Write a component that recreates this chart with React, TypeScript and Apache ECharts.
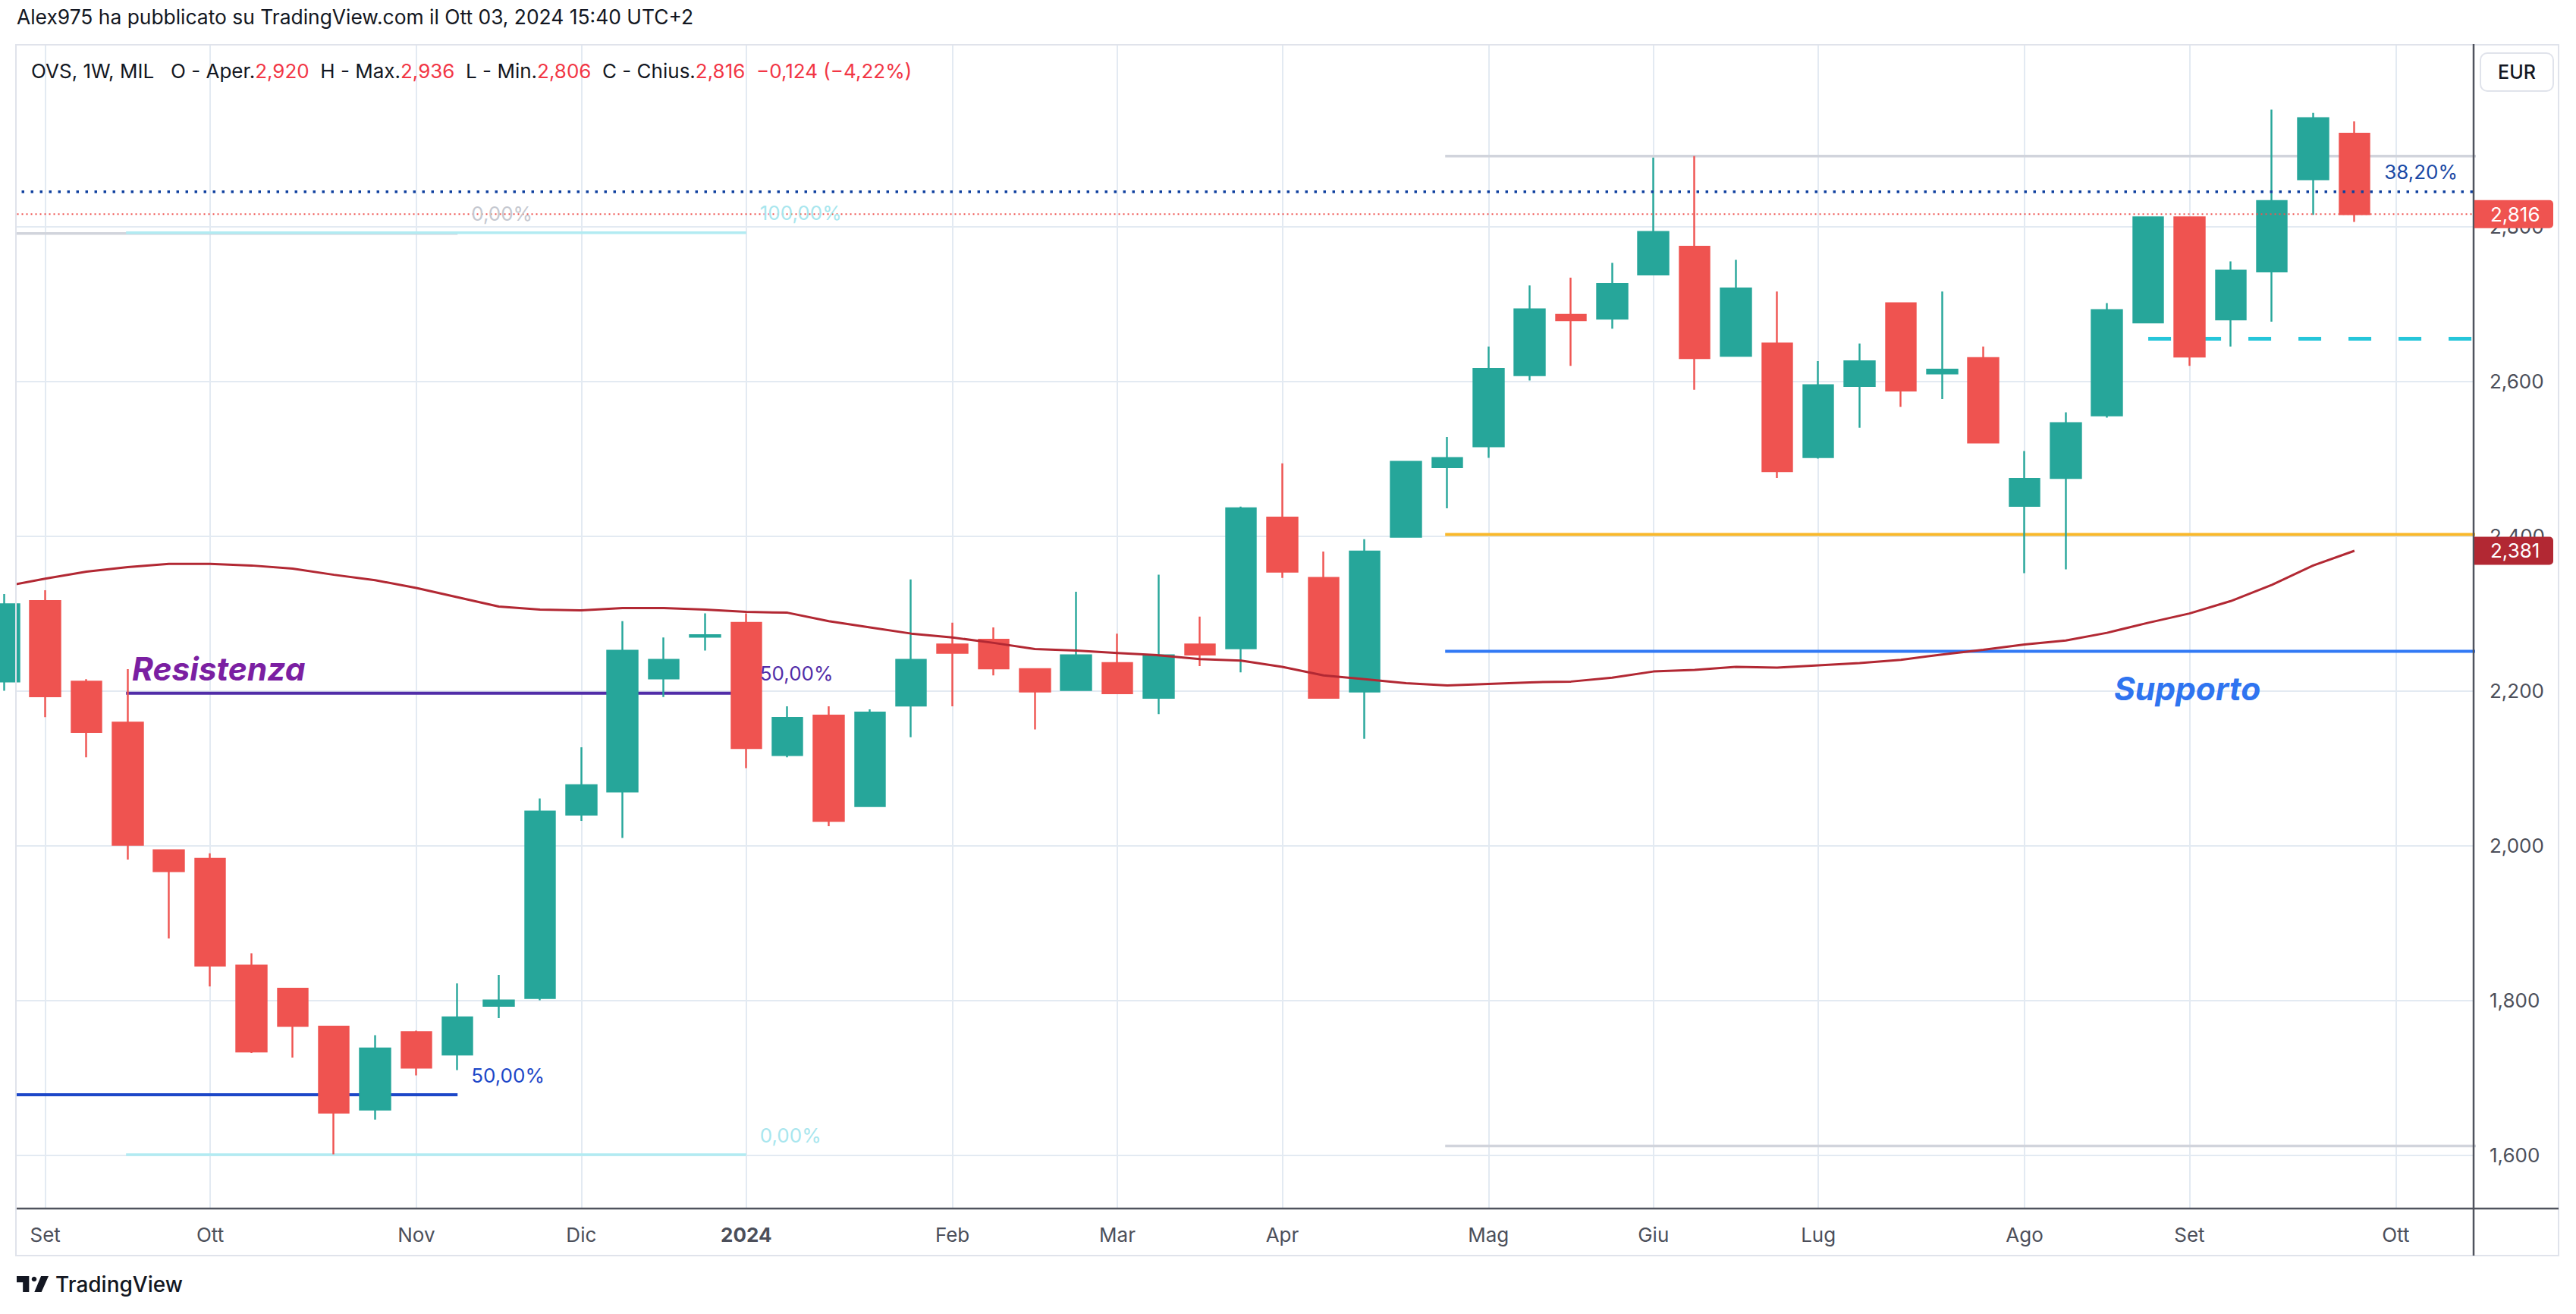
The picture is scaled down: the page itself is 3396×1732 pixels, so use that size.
import React, { useEffect, useRef } from "react";
import * as echarts from "echarts";

// ---------------- DATA ----------------
const weekStarts = [
  "2023-08-28", "2023-09-04", "2023-09-11", "2023-09-18", "2023-09-25",
  "2023-10-02", "2023-10-09", "2023-10-16", "2023-10-23", "2023-10-30",
  "2023-11-06", "2023-11-13", "2023-11-20", "2023-11-27",
  "2023-12-04", "2023-12-11", "2023-12-18", "2023-12-25",
  "2024-01-01", "2024-01-08", "2024-01-15", "2024-01-22", "2024-01-29",
  "2024-02-05", "2024-02-12", "2024-02-19", "2024-02-26",
  "2024-03-04", "2024-03-11", "2024-03-18", "2024-03-25",
  "2024-04-01", "2024-04-08", "2024-04-15", "2024-04-22", "2024-04-29",
  "2024-05-06", "2024-05-13", "2024-05-20", "2024-05-27",
  "2024-06-03", "2024-06-10", "2024-06-17", "2024-06-24",
  "2024-07-01", "2024-07-08", "2024-07-15", "2024-07-22", "2024-07-29",
  "2024-08-05", "2024-08-12", "2024-08-19", "2024-08-26",
  "2024-09-02", "2024-09-09", "2024-09-16", "2024-09-23", "2024-09-30",
];
const firstBarIndex = -1; // bar position of weekStarts[0] (Sep 4 2023 = 0)

const opens = [
  2.212, 2.316, 2.212, 2.159, 1.994, 1.983, 1.845, 1.815, 1.766, 1.659,
  1.759, 1.730, 1.793, 1.803, 2.040, 2.070, 2.216, 2.270, 2.288, 2.117,
  2.168, 2.051, 2.181, 2.260, 2.266, 2.228, 2.201, 2.236, 2.191, 2.260,
  2.255, 2.424, 2.346, 2.199, 2.399, 2.489, 2.516, 2.608, 2.686, 2.681,
  2.738, 2.774, 2.633, 2.649, 2.502, 2.594, 2.701, 2.610, 2.630, 2.439,
  2.475, 2.556, 2.676, 2.812, 2.680, 2.742, 2.861, 2.920,
];
const highs = [
  2.325, 2.330, 2.215, 2.228, 1.994, 1.990, 1.861, 1.815, 1.766, 1.755,
  1.761, 1.822, 1.833, 2.061, 2.127, 2.290, 2.269, 2.300, 2.300, 2.180,
  2.180, 2.176, 2.344, 2.288, 2.282, 2.228, 2.328, 2.274, 2.350, 2.296,
  2.438, 2.494, 2.380, 2.396, 2.496, 2.528, 2.645, 2.724, 2.734, 2.753,
  2.889, 2.891, 2.757, 2.716, 2.626, 2.649, 2.701, 2.716, 2.645, 2.510,
  2.560, 2.701, 2.812, 2.812, 2.755, 2.951, 2.947, 2.936,
];
const lows = [
  2.200, 2.166, 2.114, 1.982, 1.880, 1.818, 1.732, 1.726, 1.601, 1.646,
  1.703, 1.710, 1.777, 1.800, 2.032, 2.010, 2.192, 2.252, 2.100, 2.114,
  2.025, 2.050, 2.140, 2.180, 2.220, 2.150, 2.200, 2.197, 2.170, 2.232,
  2.224, 2.346, 2.191, 2.138, 2.398, 2.436, 2.501, 2.601, 2.620, 2.668,
  2.738, 2.589, 2.632, 2.475, 2.500, 2.540, 2.567, 2.577, 2.521, 2.352,
  2.357, 2.553, 2.676, 2.620, 2.645, 2.677, 2.815, 2.806,
];
const closes = [
  2.312, 2.193, 2.147, 2.001, 1.967, 1.845, 1.734, 1.767, 1.655, 1.738,
  1.713, 1.778, 1.800, 2.044, 2.078, 2.252, 2.240, 2.272, 2.126, 2.165,
  2.032, 2.172, 2.240, 2.249, 2.229, 2.199, 2.246, 2.197, 2.246, 2.247,
  2.436, 2.354, 2.191, 2.380, 2.496, 2.501, 2.616, 2.693, 2.679, 2.726,
  2.793, 2.630, 2.720, 2.484, 2.595, 2.626, 2.588, 2.615, 2.521, 2.474,
  2.546, 2.692, 2.812, 2.632, 2.743, 2.833, 2.940, 2.816,
];
const movingAvg = [
  2.335, 2.345, 2.354, 2.360, 2.364, 2.364, 2.362, 2.358, 2.350, 2.343,
  2.333, 2.321, 2.309, 2.305, 2.304, 2.307, 2.307, 2.305, 2.302, 2.301,
  2.290, 2.282, 2.274, 2.269, 2.262, 2.254, 2.252, 2.249, 2.246, 2.241,
  2.239, 2.231, 2.220, 2.215, 2.210, 2.207, 2.209, 2.211, 2.212, 2.217,
  2.225, 2.227, 2.231, 2.230, 2.233, 2.236, 2.240, 2.247, 2.253, 2.260,
  2.265, 2.275, 2.288, 2.300, 2.316, 2.337, 2.362, 2.381,
];

const monthTickIdx = [0, 4, 9, 13, 17, 22, 26, 30, 35, 39, 43, 48, 52, 57];
const monthTickLabels = ["Set", "Ott", "Nov", "Dic", "2024", "Feb", "Mar", "Apr", "Mag", "Giu", "Lug", "Ago", "Set", "Ott"];
const priceTicks = [1.6, 1.8, 2.0, 2.2, 2.4, 2.6, 2.8];

// horizontal drawings (fib levels / lines)
const levelPrices = [2.791, 1.678, 2.792, 2.197, 1.6006, 2.891, 2.402, 2.251, 1.612, 2.655, 2.845];
const levelStart = [-3, -3, 1.96, 1.96, 1.96, 33.95, 33.95, 33.95, 33.95, 51.0, -3];
const levelEnd = [10.0, 10.0, 17.0, 17.0, 17.0, 62, 62, 62, 62, 62, 62];
const levelLabels = ["0,00%", "50,00%", "100,00%", "50,00%", "0,00%", "", "", "", "", "", "38,20%"];

const noteTexts = ["Resistenza", "Supporto"];
const noteX = [2.105, 50.17];
const noteY = [2.229, 2.2026];

const headerText = "Alex975 ha pubblicato su TradingView.com il Ott 03, 2024 15:40 UTC+2";
const symbolText = "OVS, 1W, MIL";
const currencyText = "EUR";

// ---------------- STYLE ----------------
const FONT = 'Inter, "Noto Sans", Roboto, sans-serif';
const TEXT = "#131722";
const AXIS_TEXT = "#4c4f5a";
const UP = "#26a69a";
const DOWN = "#ef5350";
const MA_COLOR = "#b22833";
const GRID_COLOR = "#e3eaf2";

const X_MIN = -0.692;
const X_MAX = 58.89;
const Y_MIN = 1.531;
const Y_MAX = 3.0359;

const levelStyles: any[] = [
  { color: "#d1d4dc", width: 3.5, type: "solid", labelColor: "#c5c8d0", side: "end" },
  { color: "#1c47c8", width: 4, type: "solid", labelColor: "#1c47c8", side: "end" },
  { color: "#b2ebf2", width: 3.5, type: "solid", labelColor: "#a8e6ee", side: "end" },
  { color: "#512da8", width: 4, type: "solid", labelColor: "#512da8", side: "end" },
  { color: "#b2ebf2", width: 3.5, type: "solid", labelColor: "#a8e6ee", side: "end" },
  { color: "#d1d4dc", width: 3.5, type: "solid" },
  { color: "#f9b82a", width: 4, type: "solid" },
  { color: "#3179f5", width: 4, type: "solid" },
  { color: "#d1d4dc", width: 3.5, type: "solid" },
  { color: "#26c6da", width: 5, type: [30, 36] },
  { color: "#0e3f9e", width: 3.5, type: [3.5, 8.5], labelColor: "#1a49a5", side: "axis", z: 6 },
];
const noteStyles = [
  { color: "#7b1fa2" },
  { color: "#2f74f0" },
];

const fmt = (v: number) => v.toFixed(3).replace(".", ",");

export default function App() {
  const ref = useRef<HTMLDivElement>(null);

  useEffect(() => {
    if (!ref.current) return;
    try {
      echarts.graphic.registerShape(
        "tvlogo",
        echarts.graphic.extendPath("M14 22H7V11H0V4h14v18zM28 22h-8l7.5-18H36z", {}) as any
      );
    } catch (e) {
      /* ignore */
    }
    const chart = echarts.init(ref.current, null, { renderer: "svg" });

    const candleData = weekStarts.map((_, k) => [k + firstBarIndex, opens[k], closes[k], lows[k], highs[k]]);
    const maData = weekStarts.map((_, k) => [k + firstBarIndex, movingAvg[k]]);
    const last = closes.length - 1;
    const lastClose = closes[last];
    const lastMA = movingAvg[last];
    const prevClose = closes[last - 1];
    const change = lastClose - prevClose;
    const changePct = (change / prevClose) * 100;

    const levelSeries = levelPrices.map((p, k) => ({
      type: "line",
      name: "lvl" + k,
      data: [
        [levelStart[k], p],
        [levelEnd[k], p],
      ],
      symbol: "none",
      silent: true,
      clip: true,
      z: levelStyles[k].z ?? 1,
      lineStyle: { color: levelStyles[k].color, width: levelStyles[k].width, type: levelStyles[k].type },
    }));

    const option: any = {
      animation: false,
      backgroundColor: "#ffffff",
      grid: { left: 22, top: 58, right: 135, bottom: 139, containLabel: false, outerBoundsMode: "none" },
      xAxis: {
        type: "value",
        min: X_MIN,
        max: X_MAX,
        axisLine: { show: false },
        axisTick: { show: false, customValues: monthTickIdx },
        splitLine: { show: true, lineStyle: { color: GRID_COLOR, width: 2 } },
        axisLabel: {
          customValues: monthTickIdx,
          margin: 21,
          color: AXIS_TEXT,
          fontFamily: FONT,
          fontSize: 26,
          hideOverlap: false,
          formatter: (v: number) => {
            const k = monthTickIdx.indexOf(Math.round(v));
            const lab = k >= 0 ? monthTickLabels[k] : "";
            return /^\d{4}$/.test(lab) ? "{b|" + lab + "}" : lab;
          },
          rich: { b: { fontWeight: "bold", fontSize: 26, fontFamily: FONT, color: AXIS_TEXT } },
        },
      },
      yAxis: {
        type: "value",
        position: "right",
        min: Y_MIN,
        max: Y_MAX,
        axisLine: { show: false },
        axisTick: { show: false, customValues: priceTicks },
        splitLine: { show: true, lineStyle: { color: GRID_COLOR, width: 2 } },
        axisLabel: {
          customValues: priceTicks,
          margin: 21,
          align: "left",
          color: AXIS_TEXT,
          fontFamily: FONT,
          fontSize: 26,
          formatter: (v: number) => fmt(v),
        },
      },
      series: [
        ...levelSeries,
        {
          type: "candlestick",
          name: "OVS",
          data: candleData,
          barWidth: 40,
          z: 3,
          silent: true,
          itemStyle: { color: UP, color0: DOWN, borderColor: UP, borderColor0: DOWN, borderWidth: 2.4 },
        },
        {
          type: "line",
          name: "MA",
          data: maData,
          symbol: "none",
          silent: true,
          z: 4,
          lineStyle: { color: MA_COLOR, width: 3 },
        },
        {
          type: "line",
          name: "last",
          data: [
            [-3, lastClose],
            [62, lastClose],
          ],
          symbol: "none",
          silent: true,
          z: 5,
          lineStyle: { color: DOWN, width: 2, type: [2, 4] },
        },
      ],
    };
    chart.setOption(option);

    const px = (x: number, y: number) => chart.convertToPixel({ gridIndex: 0 } as any, [x, y]) as number[];
    const [axisX, axisY] = px(X_MAX, Y_MIN);
    const [plotL, plotT] = px(X_MIN, Y_MAX);
    const frameR = axisX + 112;
    const frameB = axisY + 62;

    const g: any[] = [];
    // frame
    g.push({
      type: "rect",
      z: 100,
      silent: true,
      shape: { x: plotL - 1, y: plotT + 1, width: frameR - plotL + 1, height: frameB - plotT - 1 },
      style: { fill: "none", stroke: "#e0e3eb", lineWidth: 2 },
    });
    // axis lines
    g.push({ type: "line", z: 101, silent: true, shape: { x1: axisX, y1: plotT, x2: axisX, y2: frameB }, style: { stroke: "#50535e", lineWidth: 2.5 } });
    g.push({ type: "line", z: 101, silent: true, shape: { x1: plotL, y1: axisY, x2: frameR, y2: axisY }, style: { stroke: "#50535e", lineWidth: 2.5 } });

    // header
    g.push({
      type: "text",
      z: 100,
      silent: true,
      x: 22,
      y: 22,
      style: { text: headerText, fill: TEXT, font: "26.4px " + FONT, verticalAlign: "middle", align: "left" },
    });
    // legend
    const o = opens[last], h = highs[last], l = lows[last], c = closes[last];
    const sign = change < 0 ? "\u2212" : "+";
    const legendStr =
      "{d|" + symbolText + "}   " +
      "{d|O - Aper.}{r|" + fmt(o) + "}  " +
      "{d|H - Max.}{r|" + fmt(h) + "}  " +
      "{d|L - Min.}{r|" + fmt(l) + "}  " +
      "{d|C - Chius.}{r|" + fmt(c) + "}  " +
      "{r|" + sign + fmt(Math.abs(change)) + " (" + sign + Math.abs(changePct).toFixed(2).replace(".", ",") + "%)}";
    g.push({
      type: "text",
      z: 100,
      silent: true,
      x: 41,
      y: 93,
      style: {
        text: legendStr,
        font: "26px " + FONT,
        fill: TEXT,
        verticalAlign: "middle",
        align: "left",
        rich: {
          d: { fill: TEXT, font: "26px " + FONT },
          r: { fill: "#f23645", font: "26px " + FONT },
        },
      },
    });

    // EUR box
    g.push({
      type: "rect",
      z: 100,
      silent: true,
      shape: { x: axisX + 9, y: plotT + 12, width: 96, height: 50, r: 9 },
      style: { fill: "#ffffff", stroke: "#e0e3eb", lineWidth: 2 },
    });
    g.push({
      type: "text",
      z: 101,
      silent: true,
      x: axisX + 57,
      y: plotT + 37,
      style: { text: currencyText, fill: TEXT, font: "500 25px " + FONT, align: "center", verticalAlign: "middle" },
    });

    // price labels on axis
    const priceBox = (v: number, color: string) => {
      const py = px(X_MAX, v)[1];
      g.push({
        type: "rect",
        z: 102,
        silent: true,
        shape: { x: axisX + 1, y: py - 18.5, width: 104, height: 37, r: [0, 5, 5, 0] },
        style: { fill: color },
      });
      g.push({
        type: "text",
        z: 103,
        silent: true,
        x: axisX + 22,
        y: py,
        style: { text: fmt(v), fill: "#ffffff", font: "26px " + FONT, align: "left", verticalAlign: "middle" },
      });
    };
    priceBox(lastClose, DOWN);
    priceBox(lastMA, MA_COLOR);

    // level labels
    levelLabels.forEach((lab, k) => {
      if (!lab) return;
      const st = levelStyles[k];
      const [ex, ey] = px(levelEnd[k], levelPrices[k]);
      if (st.side === "axis") {
        g.push({
          type: "text",
          z: 100,
          silent: true,
          x: axisX - 21,
          y: ey - 26,
          style: { text: lab, fill: st.labelColor, font: "26px " + FONT, align: "right", verticalAlign: "middle" },
        });
      } else {
        g.push({
          type: "text",
          z: 100,
          silent: true,
          x: ex + 18,
          y: ey - 26,
          style: { text: lab, fill: st.labelColor, font: "26px " + FONT, align: "left", verticalAlign: "middle" },
        });
      }
    });

    // notes
    noteTexts.forEach((t, k) => {
      const [nx, ny] = px(noteX[k], noteY[k]);
      g.push({
        type: "text",
        z: 100,
        silent: true,
        x: nx,
        y: ny,
        style: {
          text: t,
          fill: noteStyles[k].color,
          font: "italic bold 42.5px " + FONT,
          align: "left",
          verticalAlign: "middle",
        },
      });
    });

    // TradingView logo
    const s = 1.167;
    g.push({ type: "tvlogo", z: 100, silent: true, x: 22, y: 1677.3, scaleX: s, scaleY: s, style: { fill: TEXT } });
    g.push({ type: "circle", z: 100, silent: true, shape: { cx: 45, cy: 1686, r: 3.3 }, style: { fill: TEXT } });
    g.push({
      type: "text",
      z: 100,
      silent: true,
      x: 73,
      y: 1693,
      style: { text: "TradingView", fill: TEXT, font: "500 28px " + FONT, align: "left", verticalAlign: "middle" },
    });

    chart.setOption({ graphic: g });

    return () => chart.dispose();
  }, []);

  return (
    <div
      ref={ref}
      style={{ position: "fixed", left: 0, top: 0, width: 3396, height: 1732, background: "#ffffff" }}
    />
  );
}
